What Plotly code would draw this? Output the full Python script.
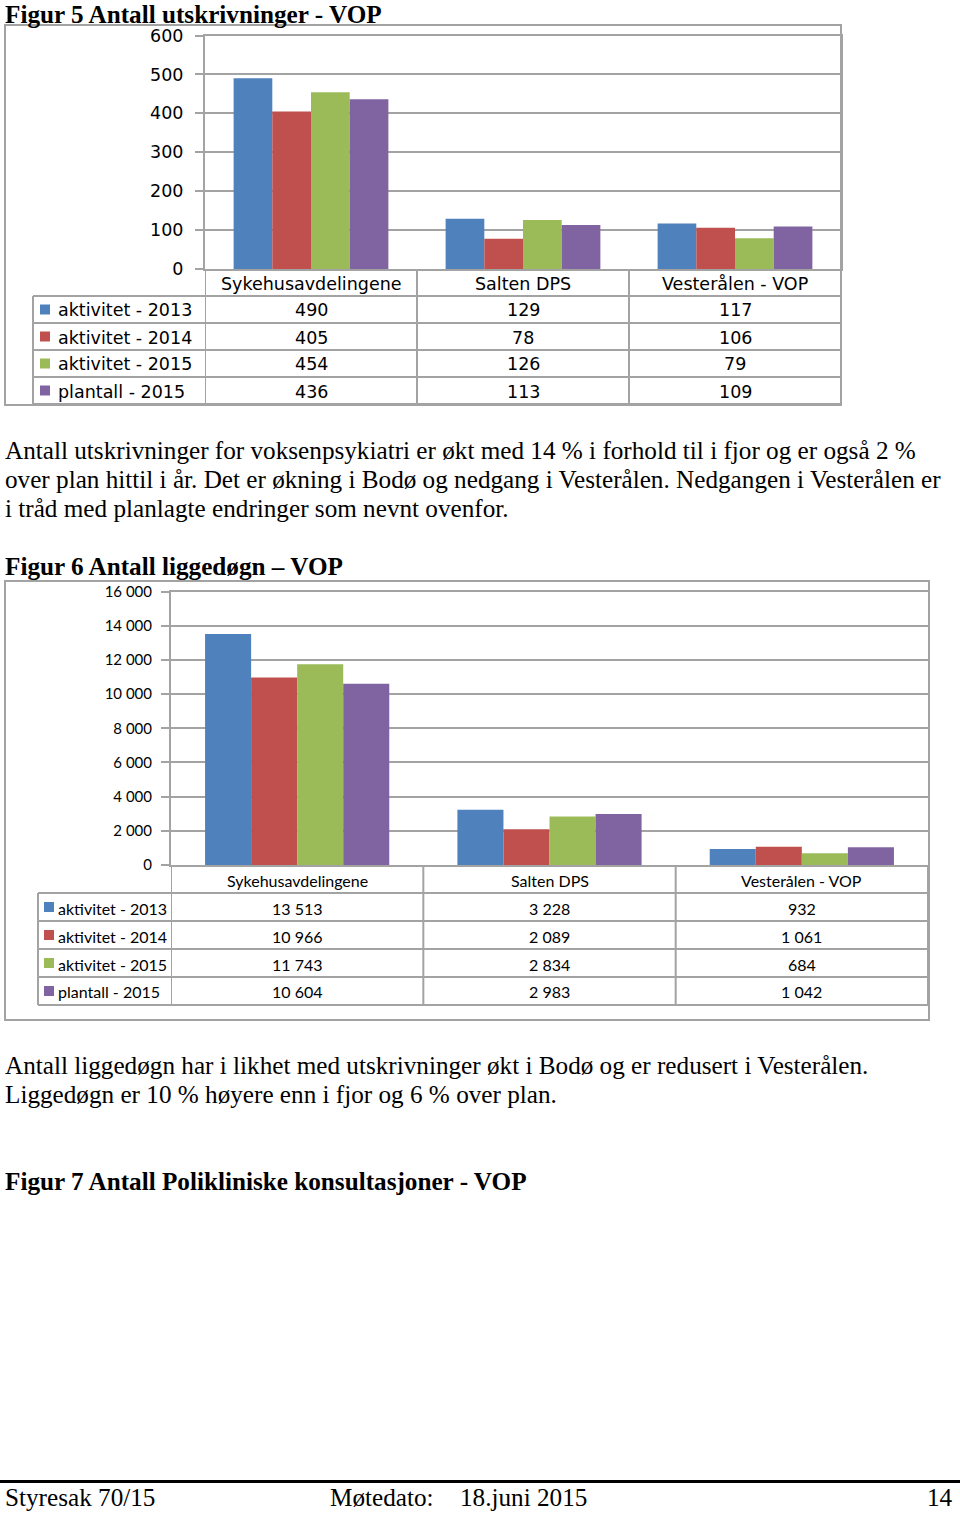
import plotly.graph_objects as go

# ---------------- data ----------------
categories = ["Sykehusavdelingene", "Salten DPS", "Vesterålen - VOP"]
series_names = ["aktivitet - 2013", "aktivitet - 2014", "aktivitet - 2015", "plantall - 2015"]

utskr_2013 = [490, 129, 117]
utskr_2014 = [405, 78, 106]
utskr_2015 = [454, 126, 79]
utskr_plan = [436, 113, 109]

ligg_2013 = [13513, 3228, 932]
ligg_2014 = [10966, 2089, 1061]
ligg_2015 = [11743, 2834, 684]
ligg_plan = [10604, 2983, 1042]

ticks_fig5 = [0, 100, 200, 300, 400, 500, 600]
ticks_fig6 = [0, 2000, 4000, 6000, 8000, 10000, 12000, 14000, 16000]

title5 = "Figur 5 Antall utskrivninger - VOP"
title6 = "Figur 6 Antall liggedøgn – VOP"
title7 = "Figur 7 Antall Polikliniske konsultasjoner - VOP"
para1 = [
    "Antall utskrivninger for voksenpsykiatri er økt med 14 % i forhold til i fjor og er også 2 %",
    "over plan hittil i år. Det er økning i Bodø og nedgang i Vesterålen. Nedgangen i Vesterålen er",
    "i tråd med planlagte endringer som nevnt ovenfor.",
]
para2 = [
    "Antall liggedøgn har i likhet med utskrivninger økt i Bodø og er redusert i Vesterålen.",
    "Liggedøgn er 10 % høyere enn i fjor og 6 % over plan.",
]
footer_left = "Styresak 70/15"
footer_mid1 = "Møtedato:"
footer_mid2 = "18.juni 2015"
footer_right = "14"

# ---------------- styling ----------------
W, H = 960, 1513
colors = ["#4F81BD", "#C0504D", "#9BBB59", "#8064A2"]
GRID = "#a3a3a3"
SERIF = "Liberation Serif"
F1 = "DejaVu Sans"
F2 = "Lato"


def px(x):
    return x / W


def py(y):
    return 1 - y / H


def fmt_space(v):
    return f"{v:,}".replace(",", " ")


fig = go.Figure()

fig5_series = [utskr_2013, utskr_2014, utskr_2015, utskr_plan]
fig6_series = [ligg_2013, ligg_2014, ligg_2015, ligg_plan]

for name, vals, col in zip(series_names, fig5_series, colors):
    fig.add_trace(go.Bar(x=categories, y=vals, name=name, marker=dict(color=col, line=dict(width=0)),
                         xaxis="x", yaxis="y", showlegend=False))
for name, vals, col in zip(series_names, fig6_series, colors):
    fig.add_trace(go.Bar(x=categories, y=vals, name=name, marker=dict(color=col, line=dict(width=0)),
                         xaxis="x2", yaxis="y2", showlegend=False))

# chart geometry (pixels)
c1 = dict(x0=205, x1=841, y0=269, ytop=35.5, legx=33, frame=(5, 25, 841, 405), row_h=27,
          swx=40, sw=10, txtx=56, font=F1, fs=17.5, xa="x", ticks=ticks_fig5, series=fig5_series)
c2 = dict(x0=171, x1=928, y0=865, ytop=591.5, legx=38, frame=(5, 581, 929, 1020), row_h=28,
          swx=44, sw=10, txtx=56, font=F2, fs=16, xa="x2", ticks=ticks_fig6, series=fig6_series)

shapes = []
annotations = []

for c in (c1, c2):
    fx0, fy0, fx1, fy1 = c["frame"]
    shapes.append(dict(type="rect", xref="paper", yref="paper", x0=px(fx0), x1=px(fx1),
                       y0=py(fy1), y1=py(fy0), line=dict(color=GRID, width=2), layer="below"))
    rh = c["row_h"]
    header_bottom = c["y0"] + rh
    table_bottom = header_bottom + 4 * rh
    for i in range(5):
        yy = header_bottom + i * rh
        shapes.append(dict(type="line", xref="paper", yref="paper", x0=px(c["legx"]), x1=px(c["x1"]),
                           y0=py(yy), y1=py(yy), line=dict(color=GRID, width=2)))
    shapes.append(dict(type="line", xref="paper", yref="paper", x0=px(c["legx"]), x1=px(c["legx"]),
                       y0=py(header_bottom), y1=py(table_bottom), line=dict(color=GRID, width=2)))
    for k in range(len(categories) + 1):
        shapes.append(dict(type="line", xref=c["xa"], yref="paper", x0=k - 0.5, x1=k - 0.5,
                           y0=py(c["y0"]), y1=py(table_bottom), line=dict(color=GRID, width=2)))
    for cat in categories:
        annotations.append(dict(xref=c["xa"], yref="paper", x=cat, y=py(c["y0"] + rh / 2 + 1),
                                text=cat, showarrow=False, xanchor="center", yanchor="middle",
                                font=dict(family=c["font"], size=c["fs"], color="#000")))
    for r, (name, vals, col) in enumerate(zip(series_names, c["series"], colors)):
        yc = header_bottom + r * rh + rh / 2 + 1
        shapes.append(dict(type="rect", xref="paper", yref="paper", x0=px(c["swx"]),
                           x1=px(c["swx"] + c["sw"]), y0=py(yc + 4), y1=py(yc - 6),
                           fillcolor=col, line=dict(width=0)))
        annotations.append(dict(xref="paper", yref="paper", x=px(c["txtx"]), y=py(yc), text=name,
                                showarrow=False, xanchor="left", yanchor="middle",
                                font=dict(family=c["font"], size=c["fs"], color="#000")))
        for cat, v in zip(categories, vals):
            annotations.append(dict(xref=c["xa"], yref="paper", x=cat, y=py(yc), text=fmt_space(v),
                                    showarrow=False, xanchor="center", yanchor="middle",
                                    font=dict(family=c["font"], size=c["fs"], color="#000")))


def text_line(txt, x, y, size=25.2, bold=False, anchor="left"):
    annotations.append(dict(xref="paper", yref="paper", x=px(x), y=py(y),
                            text=f"<b>{txt}</b>" if bold else txt, showarrow=False,
                            xanchor=anchor, yanchor="middle",
                            font=dict(family=SERIF, size=size, color="#000")))


text_line(title5, 3, 14, bold=True)
for i, ln in enumerate(para1):
    text_line(ln, 3, 450 + 29 * i)
text_line(title6, 3, 566, bold=True)
for i, ln in enumerate(para2):
    text_line(ln, 3, 1065 + 29 * i)
text_line(title7, 3, 1181, bold=True)

text_line(footer_left, 3, 1497)
text_line(footer_mid1, 328, 1497)
text_line(footer_mid2, 458, 1497)
text_line(footer_right, 955, 1497, anchor="right")
shapes.append(dict(type="line", xref="paper", yref="paper", x0=0, x1=1, y0=py(1481.5), y1=py(1481.5),
                   line=dict(color="#000", width=3)))

axis_common = dict(showline=True, linecolor=GRID, linewidth=2, mirror=True, automargin=False)

fig.update_layout(
    width=W, height=H,
    autosize=False,
    margin=dict(l=0, r=0, t=0, b=0, pad=0, autoexpand=False),
    paper_bgcolor="white", plot_bgcolor="white",
    barmode="group", bargap=0.27, bargroupgap=0,
    xaxis=dict(domain=[px(c1["x0"]), px(c1["x1"])], anchor="y", showticklabels=False, ticks="",
               showgrid=False, range=[-0.5, 2.5], **axis_common),
    yaxis=dict(domain=[py(c1["y0"]), py(c1["ytop"])], anchor="x", range=[0, 600],
               tickvals=ticks_fig5, ticks="outside", ticklen=8, tickcolor=GRID, tickwidth=2,
               ticklabelstandoff=8, showgrid=True, gridcolor=GRID, gridwidth=2, zeroline=False,
               tickfont=dict(family=F1, size=17.5, color="#000"), **axis_common),
    xaxis2=dict(domain=[px(c2["x0"]), px(c2["x1"])], anchor="y2", showticklabels=False, ticks="",
                showgrid=False, range=[-0.5, 2.5], **axis_common),
    yaxis2=dict(domain=[py(c2["y0"]), py(c2["ytop"])], anchor="x2", range=[0, 16000],
                tickvals=ticks_fig6, ticktext=[fmt_space(t) for t in ticks_fig6],
                ticks="outside", ticklen=8, tickcolor=GRID, tickwidth=2,
                ticklabelstandoff=6, showgrid=True, gridcolor=GRID, gridwidth=2, zeroline=False,
                tickfont=dict(family=F2, size=15, color="#000"), **axis_common),
    shapes=shapes,
    annotations=annotations,
)

fig.write_html("out.html")
